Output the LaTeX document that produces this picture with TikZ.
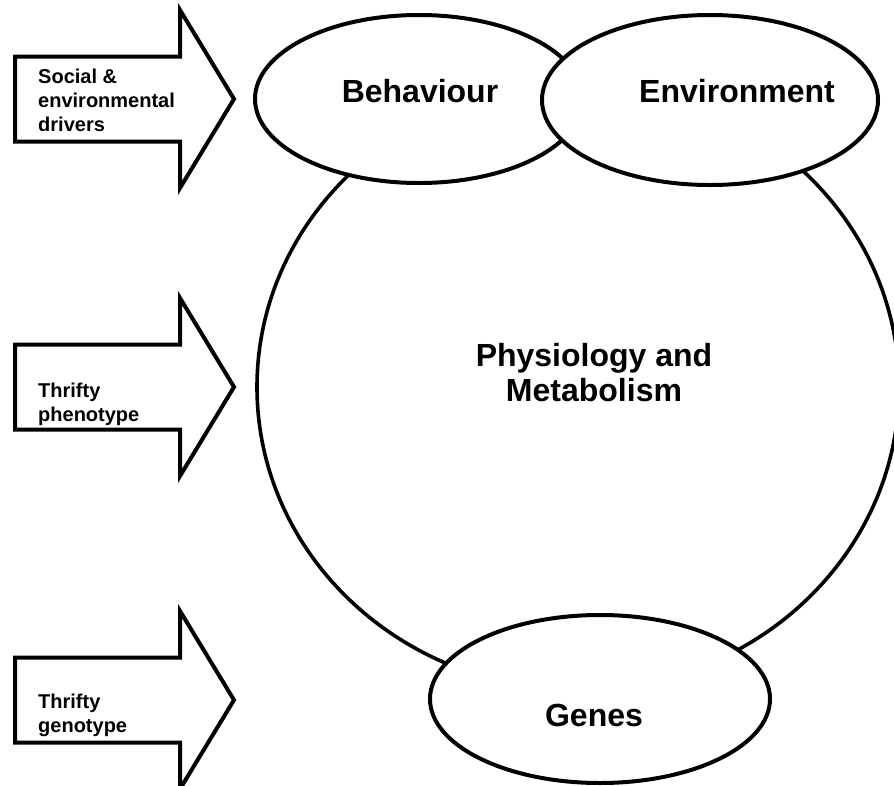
\documentclass[tikz,border=0pt]{standalone}
\usepackage{fontspec}
\setmainfont{Liberation Sans}
\usetikzlibrary{shapes.geometric,positioning}
\tikzset{blob/.style={draw,ellipse,fill=white,line width=4pt,inner sep=0pt},
  bigtxt/.style={font=\fontsize{32}{35}\selectfont\bfseries,align=center,inner sep=0pt},
  sidetxt/.style={font=\fontsize{20}{24}\selectfont\bfseries,align=left,anchor=west,inner sep=0pt},
  fatarrow/.style={draw,line width=4pt,fill=white,line join=miter}}

\begin{document}
\begin{tikzpicture}[x=1pt,y=-1pt]
\useasboundingbox (0,0) rectangle (894,785);
% the three driver arrows
\foreach \ty/\name in {99/social,387/pheno,700/geno}{
  \draw[fatarrow] (15,\ty-42.5) -- (180,\ty-42.5) -- (180,\ty-89) -- (234,\ty)
    -- (180,\ty+89) -- (180,\ty+42.5) -- (15,\ty+42.5) -- cycle;
}
\node[sidetxt] (social) at (38,100) {Social \&\\environmental\\drivers};
\node[sidetxt] (pheno) at (38,404) {Thrifty\\phenotype};
\node[sidetxt] (geno) at (38,715) {Thrifty\\genotype};
% body and the overlapping ellipses
\node[draw,ellipse,line width=3.6pt,inner sep=0pt,minimum width=642pt,minimum height=606pt] (physio) at (578,387) {};
\node[blob,minimum width=340pt,minimum height=168pt] (genes) at (600,699) {};
\node[blob,minimum width=328pt,minimum height=168pt] (behav) at (419,99) {};
\node[blob,minimum width=336pt,minimum height=170pt] (envir) at (710,100) {};
\node[bigtxt] (physiotxt) at (594,373) {Physiology and\\Metabolism};
\node[bigtxt] (genestxt) at (594,715) {Genes};
\node[bigtxt] (behavtxt) at (420,91) {Behaviour};
\node[bigtxt] (envirtxt) at (737,91) {Environment};
\end{tikzpicture}
\end{document}
